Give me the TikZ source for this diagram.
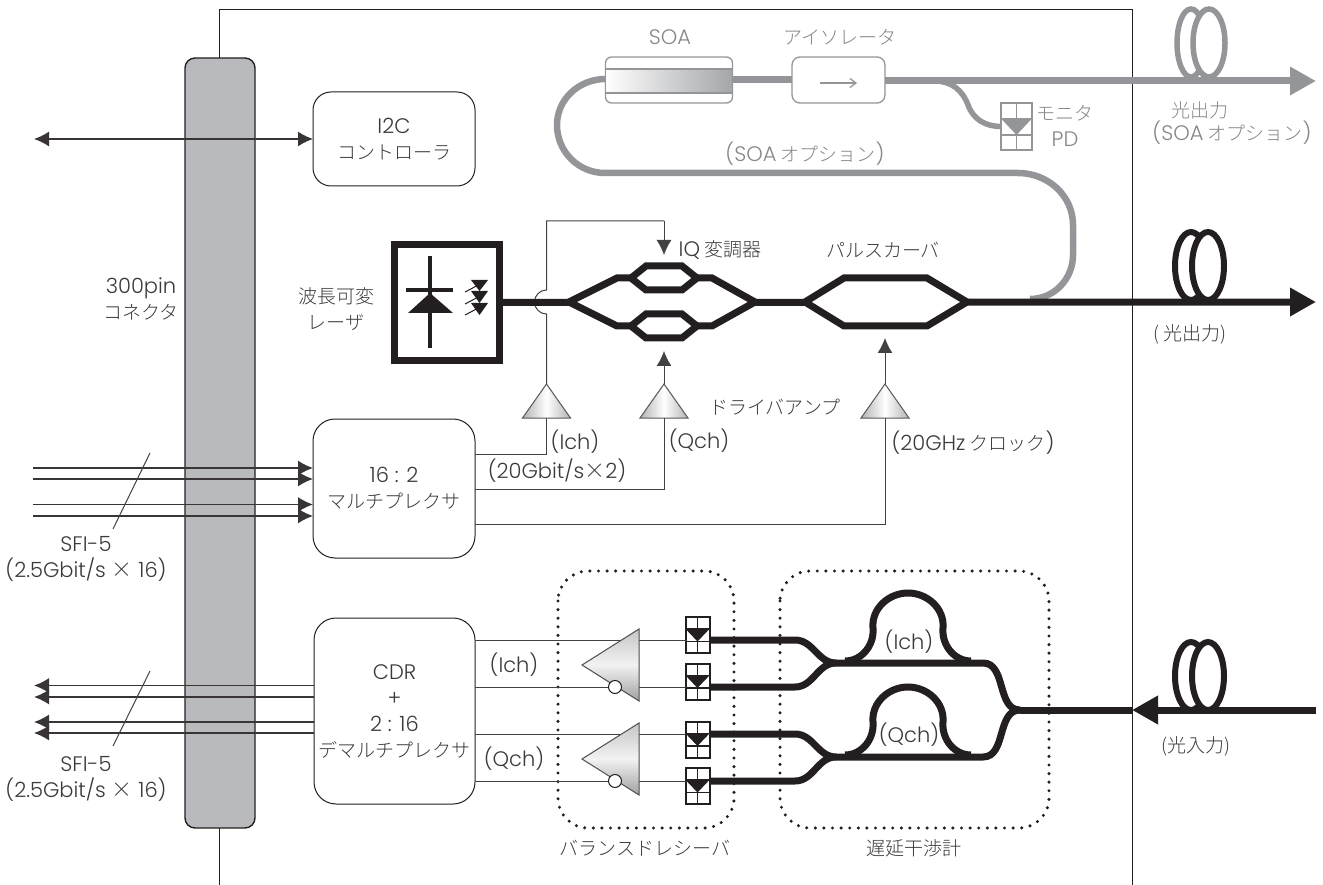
\documentclass[tikz,border=0pt]{standalone}
\usepackage{fontspec}
\setmainfont{Noto Sans CJK JP}[UprightFont=* Light]
\newfontfamily\latinfont{Poppins}[UprightFont=* Light]
\newcommand{\lat}[1]{{\fontsize{21}{26}\latinfont #1}}
\usepackage{tikz}
\usetikzlibrary{positioning, arrows.meta, shapes.geometric, calc}

\definecolor{fibreblack}{HTML}{231F20}
\definecolor{fibregray}{HTML}{939598}
\definecolor{textdark}{HTML}{3A3A3C}
\definecolor{portgray}{HTML}{B9BABD}

\begin{document}
\begin{tikzpicture}[
    x=1pt, y=-1pt,
    >={Latex[length=15pt,width=15pt]},
    every node/.style={text=textdark, font=\fontsize{19}{26}\selectfont, align=center},
    boxstyle/.style={rectangle, rounded corners=18pt, draw=fibreblack, line width=1pt, fill=white,
        inner sep=0pt, outer sep=0pt},
    portstyle/.style={rectangle, rounded corners=10pt, draw=fibreblack, line width=1.4pt, fill=portgray,
        minimum width=70pt, minimum height=770pt, outer sep=0pt},
    ampstyle/.style={isosceles triangle, isosceles triangle stretches, shape border rotate=90,
        minimum height=34pt, minimum width=48pt, inner sep=0pt, outer sep=0pt, draw=fibreblack!75, line width=1pt,
        left color=gray!60, right color=gray!60, middle color=white},
    rxampstyle/.style={isosceles triangle, isosceles triangle stretches, shape border rotate=180,
        minimum height=57pt, minimum width=72pt, inner sep=0pt, outer sep=0pt, draw=fibreblack!80, line width=1pt,
        top color=gray!45, bottom color=gray!75, middle color=white!90!gray},
    bubblestyle/.style={circle, draw=fibreblack, line width=1pt, fill=white, minimum size=13pt, inner sep=0pt},
    pdstyle/.style={rectangle, draw=#1, line width=2pt, fill=white, minimum width=24pt, minimum height=36pt,
        inner sep=0pt, outer sep=0pt,
        path picture={
            \draw[#1, line width=1.6pt] (path picture bounding box.north) -- (path picture bounding box.south);
            \draw[#1, line width=1.6pt] ($(path picture bounding box.north west)!0.33!(path picture bounding box.south west)$) -- ($(path picture bounding box.north east)!0.33!(path picture bounding box.south east)$);
            \draw[#1, line width=1.6pt] ($(path picture bounding box.north west)!0.68!(path picture bounding box.south west)$) -- ($(path picture bounding box.north east)!0.68!(path picture bounding box.south east)$);
            \fill[#1] ($(path picture bounding box.north west)!0.33!(path picture bounding box.south west)$) -- ($(path picture bounding box.north east)!0.33!(path picture bounding box.south east)$) -- ($(path picture bounding box.north)!0.68!(path picture bounding box.south)$) -- cycle;
        }},
    dotstyle/.style={draw=fibreblack, line width=3.4pt, line cap=round, dash pattern=on 0pt off 8.6pt, rounded corners=30pt},
    thinline/.style={draw=fibreblack!85, line width=1pt},
    busline/.style={draw=fibreblack!90, line width=1.5pt},
    fibre/.style={draw=fibreblack, line width=7pt},
    grayfibre/.style={draw=fibregray, line width=6.5pt},
    bigtip/.style={-{Triangle[length=26pt,width=27pt]}},
    graytext/.style={text=fibregray!90!black}
]

% outer frame
\useasboundingbox (0,0) rectangle (1323,885);
\coordinate (frameL) at (219,885);
\coordinate (frameTL) at (219,10);
\coordinate (frameTR) at (1132,10);
\coordinate (frameR) at (1132,885);
\draw[fibreblack, line width=1pt] (frameL) -- (frameTL) -- (frameTR) -- (frameR);

% dotted groups
\draw[dotstyle] (558,571) rectangle (734,828);
\draw[dotstyle] (780,571) rectangle (1049,828);
\node (rxlabel) at (645,848) {バランスドレシーバ};
\node (dlilabel) at (914,848) {遅延干渉計};

% blocks
\node[portstyle] (port) at (220,443) {};
\node (portlabel) at (141,299) {\lat{300pin}\\コネクタ};
\node[boxstyle, minimum width=162pt, minimum height=94pt] (i2c) at (394,139) {\lat{I2C}\\コントローラ};
\node[boxstyle, rounded corners=22pt, minimum width=162pt, minimum height=139pt] (mux) at (394,488.5) {\lat{16 : 2}\\マルチプレクサ};
\node[boxstyle, rounded corners=22pt, minimum width=161pt, minimum height=186pt] (cdr) at (394.5,711) {\lat{CDR}\\\lat{+}\\\lat{2 : 16}\\デマルチプレクサ};

% i2c link
\coordinate (i2cfree) at (34,139);
\draw[<->, busline] (i2cfree) -- (i2c.west);

% sfi-5 in
\coordinate (in1) at (33,468);
\coordinate (in2) at (33,479);
\coordinate (in3) at (33,504.5);
\coordinate (in4) at (33,516);
\coordinate (mux1) at (313,468);
\coordinate (mux2) at (313,479);
\coordinate (mux3) at (313,504.5);
\coordinate (mux4) at (313,516);
\draw[->, busline] (in1) -- (mux1);
\draw[->, busline] (in2) -- (mux2);
\draw[->, busline] (in3) -- (mux3);
\draw[->, busline] (in4) -- (mux4);
\coordinate (slashA) at (150,453);
\coordinate (slashB) at (113,529);
\draw[thinline] (slashA) -- (slashB);
\node (sfiin) at (86,559) {\lat{SFI-5}\\\lat{(2.5Gbit/s {\rmfamily ×} 16)}};

% sfi-5 out
\coordinate (out1) at (34,685.5);
\coordinate (out2) at (34,697);
\coordinate (out3) at (34,722);
\coordinate (out4) at (34,733);
\coordinate (cdr1) at (314,685.5);
\coordinate (cdr2) at (314,697);
\coordinate (cdr3) at (314,722);
\coordinate (cdr4) at (314,733);
\draw[->, busline] (cdr1) -- (out1);
\draw[->, busline] (cdr2) -- (out2);
\draw[->, busline] (cdr3) -- (out3);
\draw[->, busline] (cdr4) -- (out4);
\coordinate (slashC) at (150,671);
\coordinate (slashD) at (113,746);
\draw[thinline] (slashC) -- (slashD);
\node (sfiout) at (86,779) {\lat{SFI-5}\\\lat{(2.5Gbit/s {\rmfamily ×} 16)}};

% tunable laser
\node[rectangle, draw=fibreblack, line width=7pt, minimum width=105pt, minimum height=116pt, inner sep=0pt, outer sep=3.5pt] (laser) at (447,302.5) {};
\node (laserlabel) at (336,309) {波長可変\\レーザ};
\coordinate (ldtop) at (430,256);
\coordinate (ldbot) at (430,348);
\coordinate (ldbarL) at (406,290);
\coordinate (ldbarR) at (453,290);
\draw[fibreblack, line width=3.6pt] (ldtop) -- (ldbot);
\draw[fibreblack, line width=3.6pt] (ldbarL) -- (ldbarR);
\fill[fibreblack] (430,293) -- (453,313) -- (408,313) -- cycle;
\fill[fibreblack] (471,280) -- (488,280) -- (479.5,291) -- cycle;
\fill[fibreblack] (471,291) -- (488,291) -- (479.5,303) -- cycle;
\fill[fibreblack] (471,303) -- (488,303) -- (479.5,315) -- cycle;
\draw[fibreblack, line width=1pt] (465,292) -- (486,281);
\draw[fibreblack, line width=1pt] (465,304) -- (486,293);
\draw[fibreblack, line width=1pt] (465,315) -- (486,304);

% driver amps
\node[ampstyle, anchor=apex] (ampI) at (546.5,384) {};
\node[ampstyle, anchor=apex] (ampQ) at (664,384) {};
\node[ampstyle, anchor=apex] (ampC) at (885,384) {};
\node (drvlabel) at (775,407) {ドライバアンプ};
\coordinate (muxI) at (475,454);
\coordinate (muxQ) at (475,489);
\coordinate (muxC) at (475,524);
\coordinate (turnI) at (546.5,454);
\coordinate (turnQ) at (664,489);
\coordinate (turnC) at (885,524);
\draw[thinline] (muxI) -- (turnI) -- (ampI.lower side);
\draw[thinline] (muxQ) -- (turnQ) -- (ampQ.lower side);
\draw[thinline] (muxC) -- (turnC) -- (ampC.lower side);
\coordinate (tipI) at (664,255);
\coordinate (tipQ) at (664,351);
\coordinate (tipC) at (885,338);
\coordinate (hopA) at (546.5,314);
\coordinate (hopB) at (546.5,290);
\coordinate (bendA) at (546.5,221);
\coordinate (bendB) at (664,221);
\draw[thinline] (ampI.apex) -- (hopA) arc[start angle=-90, end angle=-270, radius=12pt] -- (bendA) -- (bendB);
\draw[->, thinline] (bendB) -- (tipI);
\draw[->, thinline] (ampQ.apex) -- (tipQ);
\draw[->, thinline] (ampC.apex) -- (tipC);
\node (labI) at (575,442) {\lat{(Ich)}};
\node (labQ) at (699,441) {\lat{(Qch)}};
\node (labG) at (557,471) {\lat{(20Gbit/s{\rmfamily ×}2)}};
\node (labC) at (973,443) {\lat{(20GHz} クロック\lat{)}};

% optional gray path
\coordinate (joinT) at (1030,299);
\coordinate (arcT) at (1073,225);
\coordinate (arcU) at (1018,173);
\coordinate (loopB) at (605,173);
\node[boxstyle, rounded corners=6pt, draw=fibregray, line width=1.3pt, minimum width=127pt, minimum height=46pt] (soa) at (669,80) {};
\node[rectangle, draw=fibregray, line width=1.3pt, minimum width=127pt, minimum height=24pt, inner sep=0pt, left color=white, right color=fibregray!85] (soaband) at (669,81) {};
\node[boxstyle, rounded corners=8pt, draw=fibregray, line width=1.3pt, minimum width=93pt, minimum height=46pt] (iso) at (838.5,80) {};
\node[graytext] (soalabel) at (670,37) {\lat{SOA}};
\node[graytext] (isolabel) at (840,37) {アイソレータ};
\coordinate (isoA) at (820,83);
\coordinate (isoB) at (857,83);
\draw[-{Straight Barb[length=6pt,width=9pt]}, draw=fibregray, line width=1.3pt] (isoA) -- (isoB);

\draw[grayfibre] (soa.west) ++(0,-1) to[out=180,in=90] (557,125) to[out=-90,in=180] (loopB) -- (arcU) to[out=0,in=90] (arcT) -- (1073,255) to[out=-90,in=0] (joinT);
\draw[grayfibre, line width=7pt] (soa.east) -- (iso.west);

% output coils
\draw[fibregray, line width=5.5pt] (1191,43) ellipse (14pt and 34pt);
\draw[fibregray, line width=5.5pt, fill=white] (1209,43) ellipse (16pt and 34pt);
\draw[fibreblack, line width=6pt] (1191,266) ellipse (16pt and 34pt);
\draw[fibreblack, line width=6pt, fill=white] (1208,266) ellipse (16pt and 34pt);
\draw[fibreblack, line width=6pt] (1191,676) ellipse (16pt and 34pt);
\draw[fibreblack, line width=6pt, fill=white] (1208,676) ellipse (16pt and 34pt);

\coordinate (grayend) at (1316,81);
\draw[bigtip, draw=fibregray, fill=fibregray, line width=7pt] (iso.east) ++(0,1) -- (grayend);
\node[pdstyle=fibregray, minimum width=31pt, minimum height=47pt] (pdm) at (1016.5,126.5) {};
\draw[grayfibre, line width=5.5pt] (935,81) to[out=0,in=110] (968,105) to[out=-70,in=180] (pdm.west);
\node[graytext] (pdmlabel) at (1065,126) {モニタ\\\lat{PD}};
\node[graytext] (graylab) at (805,154) {\lat{(SOA} オプション\lat{)}};
\node[graytext] (grayout) at (1200,110) {光出力};
\node[graytext] (grayoutb) at (1232,133) {\lat{(SOA} オプション\lat{)}};

% modulators
\coordinate (mainend) at (1316,302);
\draw[bigtip, draw=fibreblack, fill=fibreblack, line width=7pt] (laser.east) -- (mainend);
\node (mainout) at (1190,334) {( 光出力)};
\draw[fibre, fill=white] (569,302) -- (617,278) -- (712,278) -- (755,302) -- (712,326) -- (617,326) -- cycle;
\draw[fibre, fill=white] (631,278) -- (646,266) -- (682,266) -- (697,278) -- (682,290) -- (646,290) -- cycle;
\draw[fibre, fill=white] (631,326) -- (646,314) -- (682,314) -- (697,326) -- (682,338) -- (646,338) -- cycle;
\draw[fibre, fill=white] (805,302) -- (844,278) -- (927,278) -- (967,302) -- (927,326) -- (844,326) -- cycle;
\node (iqlabel) at (720,250) {\lat{IQ} 変調器};
\node (pclabel) at (883,250) {パルスカーバ};

% receivers
\coordinate (cdrA) at (475,640);
\coordinate (cdrB) at (475,687);
\coordinate (cdrC) at (475,734);
\coordinate (cdrD) at (475,781);
\node[pdstyle=fibreblack] (pd1) at (697.5,635) {};
\node[pdstyle=fibreblack] (pd2) at (697.5,681.5) {};
\node[pdstyle=fibreblack] (pd3) at (697.5,739.5) {};
\node[pdstyle=fibreblack] (pd4) at (697.5,786) {};
\coordinate (pd1in) at (685.5,640);
\coordinate (pd2in) at (685.5,687);
\coordinate (pd3in) at (685.5,734);
\coordinate (pd4in) at (685.5,781);
\draw[thinline] (cdrA) -- (pd1in);
\draw[thinline] (cdrB) -- (pd2in);
\draw[thinline] (cdrC) -- (pd3in);
\draw[thinline] (cdrD) -- (pd4in);
\node[rxampstyle, anchor=apex] (rxI) at (582,665) {};
\node[rxampstyle, anchor=apex] (rxQ) at (582,759) {};
\node[bubblestyle] (bubI) at (615,687) {};
\node[bubblestyle] (bubQ) at (615,781) {};
\node (rxIlab) at (514,665) {\lat{(Ich)}};
\node (rxQlab) at (514,759) {\lat{(Qch)}};

% delay interferometers
\coordinate (pd1out) at (710,640);
\coordinate (pd2out) at (710,687);
\coordinate (pd3out) at (710,734);
\coordinate (pd4out) at (710,781);
\coordinate (mergeI) at (836,663);
\coordinate (mergeQ) at (836,757);
\coordinate (endI) at (983,663);
\coordinate (endQ) at (983,757);
\coordinate (combine) at (1020,710);
\coordinate (rxin) at (1132,710);
\coordinate (lightin) at (1316,710);
\draw[fibre] (pd1out) -- (795,640) to[out=0,in=180] (mergeI);
\draw[fibre] (pd2out) -- (795,687) to[out=0,in=180] (mergeI);
\draw[fibre] (pd3out) -- (795,734) to[out=0,in=180] (mergeQ);
\draw[fibre] (pd4out) -- (795,781) to[out=0,in=180] (mergeQ);
\draw[fibre] (mergeI) -- (endI) to[out=0,in=180] (combine);
\draw[fibre] (mergeQ) -- (endQ) to[out=0,in=180] (combine);
\draw[fibre] (845,661) to[out=0,in=-85] (873,628) to[out=95,in=180] (908,593) to[out=0,in=85] (943,628) to[out=-95,in=180] (971,661);
\draw[fibre] (845,755) to[out=0,in=-85] (873,722) to[out=95,in=180] (908,687) to[out=0,in=85] (943,722) to[out=-95,in=180] (971,755);
\draw[fibre] (combine) -- (rxin);
\draw[bigtip, draw=fibreblack, fill=fibreblack, line width=7pt] (lightin) -- (rxin);
\node (dliI) at (909,642) {\lat{(Ich)}};
\node (dliQ) at (909,735) {\lat{(Qch)}};
\node (lightlabel) at (1196,746) {(光入力)};

\end{tikzpicture}
\end{document}
